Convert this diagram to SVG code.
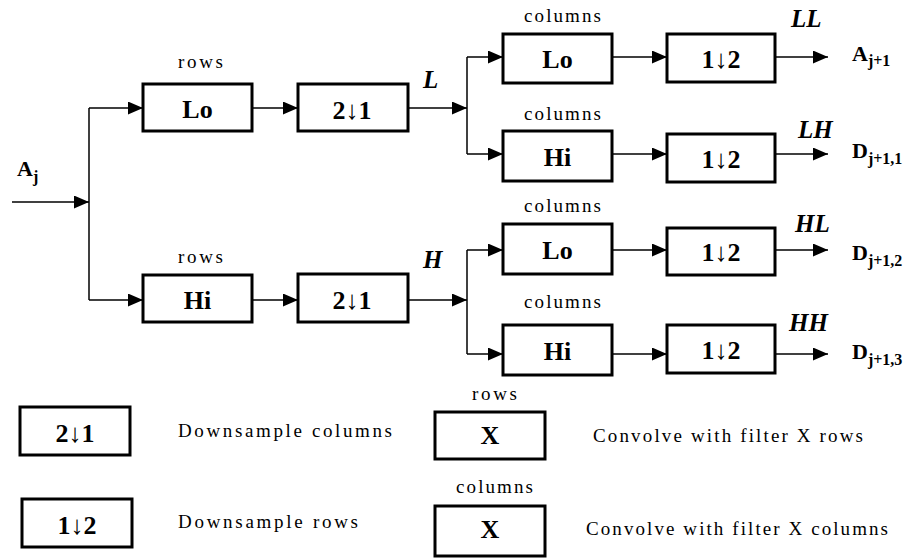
<svg xmlns="http://www.w3.org/2000/svg" width="917" height="558" viewBox="0 0 917 558" font-family="Liberation Serif, Times New Roman, serif">
<style>
.box{fill:#fff;stroke:#000;stroke-width:3}
.bt{font-weight:bold;font-size:26px;text-anchor:middle}
.sm{font-size:19px}
.lab{font-weight:bold;font-style:italic;font-size:25px}
.out{font-weight:bold;font-size:22px}
.sub{font-size:16px}
.c{fill:none;stroke:#000;stroke-width:1.5}
</style>
<defs>
<marker id="ah" viewBox="0 0 15 13" refX="15" refY="6.5" markerWidth="15" markerHeight="13" markerUnits="userSpaceOnUse" orient="auto">
<path d="M0,0 L15,6.5 L0,13 z" fill="#000"/>
</marker>
</defs>
<rect width="917" height="558" fill="#fff"/>
<g id="connectors">
<path class="c" d="M12,202 H89" marker-end="url(#ah)"/>
<path class="c" d="M89,108 V300"/>
<path class="c" d="M89,108 H143" marker-end="url(#ah)"/>
<path class="c" d="M89,300 H143" marker-end="url(#ah)"/>
<path class="c" d="M252,108 H298" marker-end="url(#ah)"/>
<path class="c" d="M252,300 H298" marker-end="url(#ah)"/>
<path class="c" d="M408,108 H467" marker-end="url(#ah)"/>
<path class="c" d="M408,300 H467" marker-end="url(#ah)"/>
<path class="c" d="M467,57 V154"/>
<path class="c" d="M467,57 H503" marker-end="url(#ah)"/>
<path class="c" d="M467,154 H503" marker-end="url(#ah)"/>
<path class="c" d="M467,250 V354"/>
<path class="c" d="M467,250 H503" marker-end="url(#ah)"/>
<path class="c" d="M467,354 H503" marker-end="url(#ah)"/>
<path class="c" d="M612,57 H667" marker-end="url(#ah)"/>
<path class="c" d="M612,154 H667" marker-end="url(#ah)"/>
<path class="c" d="M612,250 H667" marker-end="url(#ah)"/>
<path class="c" d="M612,354 H667" marker-end="url(#ah)"/>
<path class="c" d="M775,57 H828" marker-end="url(#ah)"/>
<path class="c" d="M775,154 H828" marker-end="url(#ah)"/>
<path class="c" d="M775,250 H828" marker-end="url(#ah)"/>
<path class="c" d="M775,354 H828" marker-end="url(#ah)"/>
</g>
<g id="input">
<text class="out" x="17" y="176" font-size="23">A<tspan class="sub" dy="6">j</tspan></text>
</g>
<g id="lo-rows">
<text class="sm" x="178" y="68" textLength="45" lengthAdjust="spacing">rows</text>
<rect class="box" x="143" y="84" width="109" height="47"/>
<text class="bt" x="197.5" y="118">Lo</text>
</g>
<g id="hi-rows">
<text class="sm" x="178" y="263" textLength="45" lengthAdjust="spacing">rows</text>
<rect class="box" x="143" y="275" width="109" height="47"/>
<text class="bt" x="197.5" y="309">Hi</text>
</g>
<g id="down-L">
<rect class="box" x="298" y="84" width="110" height="47"/>
<text class="bt" x="352" y="119">2↓1</text>
</g>
<g id="down-H">
<rect class="box" x="298" y="274" width="110" height="48"/>
<text class="bt" x="352" y="309">2↓1</text>
</g>
<g id="label-L"><text class="lab" x="423" y="88">L</text></g>
<g id="label-H"><text class="lab" x="423" y="268">H</text></g>
<g id="lo-col-1">
<text class="sm" x="524" y="22" textLength="77" lengthAdjust="spacing">columns</text>
<rect class="box" x="503" y="34" width="109" height="49"/>
<text class="bt" x="557.5" y="68">Lo</text>
</g>
<g id="hi-col-1">
<text class="sm" x="524" y="120" textLength="77" lengthAdjust="spacing">columns</text>
<rect class="box" x="503" y="131" width="109" height="50"/>
<text class="bt" x="557.5" y="166">Hi</text>
</g>
<g id="lo-col-2">
<text class="sm" x="524" y="212" textLength="77" lengthAdjust="spacing">columns</text>
<rect class="box" x="503" y="224" width="109" height="50"/>
<text class="bt" x="557.5" y="259">Lo</text>
</g>
<g id="hi-col-2">
<text class="sm" x="524" y="308" textLength="77" lengthAdjust="spacing">columns</text>
<rect class="box" x="503" y="325" width="109" height="50"/>
<text class="bt" x="557.5" y="360">Hi</text>
</g>
<g id="down-LL">
<rect class="box" x="667" y="34" width="108" height="48"/>
<text class="bt" x="721" y="68">1↓2</text>
</g>
<g id="down-LH">
<rect class="box" x="667" y="134" width="108" height="48"/>
<text class="bt" x="721" y="168">1↓2</text>
</g>
<g id="down-HL">
<rect class="box" x="667" y="228" width="108" height="47"/>
<text class="bt" x="721" y="261">1↓2</text>
</g>
<g id="down-HH">
<rect class="box" x="667" y="325" width="108" height="48"/>
<text class="bt" x="721" y="359">1↓2</text>
</g>
<g id="out-LL">
<text class="lab" x="791" y="27">LL</text>
<text class="out" x="852" y="61">A<tspan class="sub" dy="5">j+1</tspan></text>
</g>
<g id="out-LH">
<text class="lab" x="798" y="138">LH</text>
<text class="out" x="852" y="158">D<tspan class="sub" dy="6">j+1,1</tspan></text>
</g>
<g id="out-HL">
<text class="lab" x="795" y="232">HL</text>
<text class="out" x="852" y="260">D<tspan class="sub" dy="6">j+1,2</tspan></text>
</g>
<g id="out-HH">
<text class="lab" x="789" y="331">HH</text>
<text class="out" x="852" y="359">D<tspan class="sub" dy="6">j+1,3</tspan></text>
</g>
<g id="legend-down-cols">
<rect class="box" x="20" y="407" width="110" height="48"/>
<text class="bt" x="75" y="442">2↓1</text>
<text class="sm" x="178" y="437" textLength="214" lengthAdjust="spacing">Downsample columns</text>
</g>
<g id="legend-down-rows">
<rect class="box" x="22" y="499" width="110" height="48"/>
<text class="bt" x="77" y="534">1↓2</text>
<text class="sm" x="178" y="528" textLength="180" lengthAdjust="spacing">Downsample rows</text>
</g>
<g id="legend-conv-rows">
<text class="sm" x="472" y="400" textLength="45" lengthAdjust="spacing">rows</text>
<rect class="box" x="435" y="412" width="110" height="47"/>
<text class="bt" x="490" y="444">X</text>
<text class="sm" x="593" y="442" textLength="270" lengthAdjust="spacing">Convolve with filter X rows</text>
</g>
<g id="legend-conv-cols">
<text class="sm" x="456" y="493" textLength="77" lengthAdjust="spacing">columns</text>
<rect class="box" x="435" y="506" width="110" height="50"/>
<text class="bt" x="490" y="538">X</text>
<text class="sm" x="586" y="535" textLength="302" lengthAdjust="spacing">Convolve with filter X columns</text>
</g>
</svg>
